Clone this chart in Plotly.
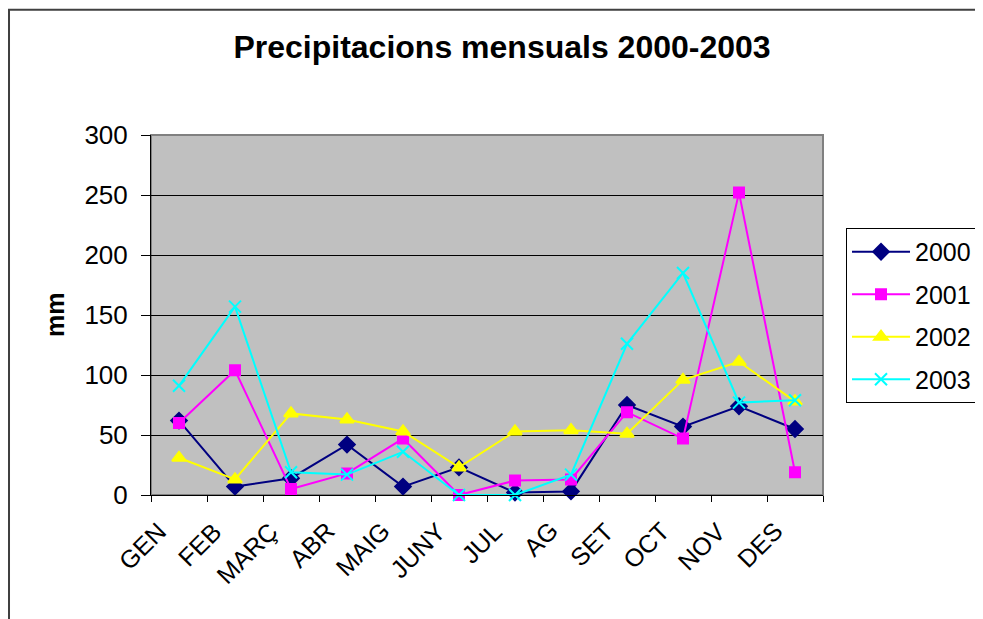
import plotly.graph_objects as go

# Monthly rainfall (mm)
months = ["GEN", "FEB", "MARÇ", "ABR", "MAIG", "JUNY", "JUL", "AG", "SET", "OCT", "NOV", "DES"]
rain_2000 = [62, 7, 14, 42, 7, 23, 2, 3, 75, 57, 74, 55]
rain_2001 = [60, 104, 5, 18, 47, 0, 12, 13, 69, 47, 252, 19]
rain_2002 = [31, 13, 68, 63, 53, 23, 53, 54, 51, 96, 111, 78]
rain_2003 = [91, 157, 19, 17, 36, 0, 0, 17, 126, 185, 77, 79]

FONT = "Liberation Sans, Arial, sans-serif"

SERIES = [
    ("2000", rain_2000, "#000080", "diamond", 12),
    ("2001", rain_2001, "#FF00FF", "square", 10),
    ("2002", rain_2002, "#FFFF00", "triangle-up", 12),
    ("2003", rain_2003, "#00FFFF", "x-thin", 12),
]

fig = go.Figure()
for name, vals, color, symbol, size in SERIES:
    fig.add_trace(go.Scatter(
        x=months, y=vals, name=name, legendgroup=name,
        mode="lines+markers",
        line=dict(color=color, width=2),
        marker=dict(symbol=symbol, size=size, color=color,
                    line=dict(color=color, width=2)),
        cliponaxis=False,
    ))

# page body has an 8px margin, so the figure is 8px smaller than the window
fig.update_layout(
    width=975, height=611,
    paper_bgcolor="white",
    plot_bgcolor="#C0C0C0",
    margin=dict(l=143, r=160, t=127, b=124),
    font=dict(family=FONT, size=26, color="black"),
    title=dict(text="<b>Precipitacions mensuals 2000-2003</b>",
               font=dict(size=32), x=0.5067, xref="container", xanchor="center",
               y=0.936, yanchor="middle"),
    # container-referenced legend so it does not push the right margin
    legend=dict(xref="container", yref="container", x=0.8595, y=0.640,
                xanchor="left", yanchor="top",
                bgcolor="white", bordercolor="black", borderwidth=1,
                font=dict(size=25), itemwidth=58, tracegroupgap=7),
    showlegend=True,
)

fig.update_xaxes(
    type="category", range=[-0.5, 11.5], showticklabels=False,
    tickson="boundaries", ticks="outside", ticklen=6, tickcolor="black",
    showline=True, linecolor="black", linewidth=1,
    showgrid=False, zeroline=False,
)
fig.update_yaxes(
    range=[0, 300], dtick=50, ticks="outside", ticklen=9, tickcolor="black",
    ticklabelstandoff=8,
    showline=True, linecolor="black", linewidth=1,
    showgrid=True, gridcolor="black", gridwidth=1, zeroline=False,
)

# month labels, rotated and right-aligned under each category like Excel does
for m in months:
    fig.add_annotation(text=m, x=m, y=0, xref="x", yref="y",
                       xanchor="right", yanchor="top", textangle=-45,
                       xshift=-5, yshift=-19, showarrow=False,
                       font=dict(size=25))

# gray plot border on top/right, outer chart frame, y-axis title
fig.add_shape(type="rect", xref="paper", yref="paper", x0=0, y0=0, x1=1, y1=1,
              line=dict(color="#808080", width=2), layer="below")
fig.add_shape(type="rect", xref="paper", yref="paper",
              x0=-0.2113, y0=-0.5, x1=1.4, y1=1.348,
              line=dict(color="#404040", width=2))
fig.add_annotation(text="<b>mm</b>", xref="paper", yref="paper",
                   x=-0.1429, y=0.5, xanchor="center", yanchor="middle",
                   showarrow=False, textangle=-90, font=dict(size=25))

fig.write_html("out.html")
